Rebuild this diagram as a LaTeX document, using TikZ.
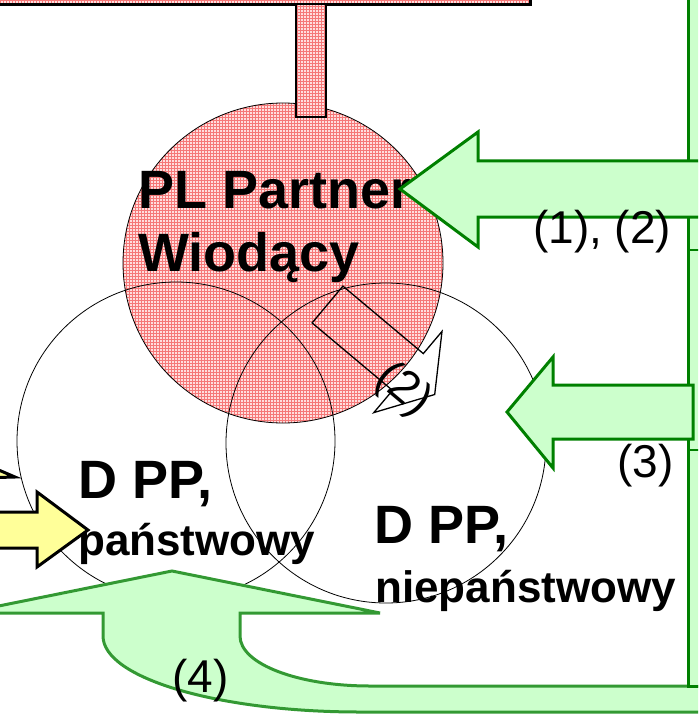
\documentclass[tikz,border=0pt]{standalone}
\usepackage{fontspec}
\setmainfont{Liberation Sans}
\usetikzlibrary{patterns}
\definecolor{pinkf}{RGB}{255,222,222}
\definecolor{pinkg}{RGB}{245,120,120}
\definecolor{gfill}{RGB}{204,255,204}
\definecolor{gdark}{RGB}{0,128,0}
\definecolor{glight}{RGB}{51,153,51}
\definecolor{yfill}{RGB}{255,255,153}
\newcommand\fbig{\fontsize{54}{60}\selectfont\bfseries}
\newcommand\fsmall{\fontsize{44}{50}\selectfont\bfseries}
\newcommand\freg{\fontsize{46}{52}\selectfont}
\begin{document}
\begin{tikzpicture}[x=1pt,y=-1pt,
  pinkshape/.style={preaction={fill=pinkf},pattern=grid,pattern color=pinkg,draw=black},
  ring/.style={draw=black,line width=0.8pt},
  garrow/.style={fill=gfill,draw=gdark,line width=3pt,line join=miter},
  garrowl/.style={fill=gfill,draw=glight,line width=3pt,line join=miter},
  yarrow/.style={fill=yfill,draw=black,line width=3pt,line join=miter},
  outarrow/.style={draw=black,line width=1.3pt,line join=miter},
  txt/.style={inner sep=0pt,anchor=base west}]
\clip (0,0) rectangle (698,714);
% top block and stem
\draw[pinkshape,line width=3pt] (-10,-20) rectangle (530,5);
\draw[pinkshape,line width=0.8pt] (283,263) circle[radius=160];
\draw[pinkshape,line width=2pt] (296,4) rectangle (326,117);
% partner circles
\draw[ring] (176,441) circle[radius=159];
\draw[ring] (386,443) circle[radius=160];
% texts
\node[txt] (pl) at (138,208) {\fbig PL Partner};
\node[txt] (wiod) at (138,271) {\fbig Wiodący};
\node[txt] (dpp1) at (78,498) {\fbig D PP,};
\node[txt] (pan) at (78,555) {\fsmall państwowy};
\node[txt] (dpp2) at (374,543) {\fbig D PP,};
\node[txt] (niep) at (375,602) {\fsmall niepaństwowy};
% rotated outline arrow (2)
\draw[outarrow] (342.9,286.1) -- (423.3,353.6) -- (442.0,331.4) -- (434.7,394.5)
  -- (373.8,412.6) -- (392.5,390.4) -- (312.1,322.9) -- cycle;
\node[inner sep=0pt,rotate=-40] (l2) at (403,390) {\freg (2)};
% right green bar and (4) arrow
\draw[garrowl] (172,571) -- (380,613) -- (240,613) -- (240,636)
  .. controls (240,664) and (298,686) .. (370,686) -- (720,686) -- (720,712)
  -- (360,712) .. controls (218,712) and (103,678) .. (103,636)
  -- (103,613) -- (-36,613) -- cycle;
\draw[garrow] (688,686) -- (688,-20) -- (720,-20) -- (720,686) -- cycle;
\draw[gdark,line width=2pt] (688,250) -- (700,250);
\draw[gdark,line width=2pt] (688,450) -- (700,450);
% arrow (1),(2)
\draw[garrow] (400,189) -- (478,132) -- (478,161) -- (720,161) -- (720,217)
  -- (478,217) -- (478,247) -- cycle;
% arrow (3)
\draw[garrow] (507,412) -- (553,357) -- (553,385) -- (693,385) -- (693,439)
  -- (553,439) -- (553,468) -- cycle;
% yellow arrows
\draw[yarrow] (88,530) -- (37,492) -- (37,512) -- (-20,512) -- (-20,548)
  -- (37,548) -- (37,567) -- cycle;
\draw[yarrow] (-20,462) -- (15,477) -- (-20,478);
% labels
\node[txt] (l12) at (533,243) {\freg (1), (2)};
\node[txt] (l3) at (617,477) {\freg (3)};
\node[txt] (l4) at (172,692) {\freg (4)};
\end{tikzpicture}
\end{document}
